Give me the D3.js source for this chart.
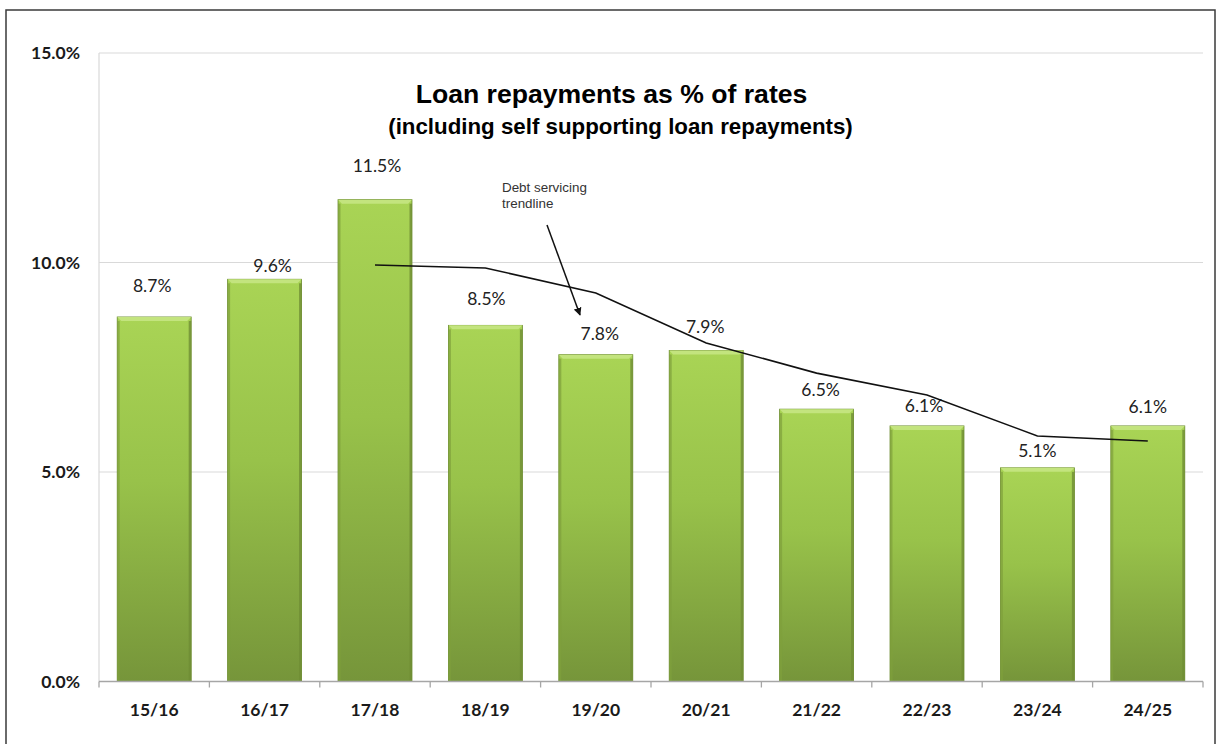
<!DOCTYPE html>
<html>
<head>
<meta charset="utf-8">
<script src="https://cdn.jsdelivr.net/npm/d3@7"></script>
<style>
  html, body { margin: 0; padding: 0; background: #fff; }
  svg { display: block; }
</style>
</head>
<body>
<svg id="chart" width="1224" height="744"></svg>
<script>
// Financial years and loan repayments as % of rates
const years = ["15/16", "16/17", "17/18", "18/19", "19/20", "20/21", "21/22", "22/23", "23/24", "24/25"];
const repayments = [8.7, 9.6, 11.5, 8.5, 7.8, 7.9, 6.5, 6.1, 5.1, 6.1];

// Debt servicing trendline (from 17/18 onwards)
const trendYears = ["17/18", "18/19", "19/20", "20/21", "21/22", "22/23", "23/24", "24/25"];
const trendValues = [9.94, 9.87, 9.27, 8.08, 7.36, 6.84, 5.86, 5.74];

const yTicks = [0, 5, 10, 15];

const svg = d3.select("#chart");
const plotLeft = 99, plotRight = 1203, plotTop = 53, plotBottom = 681.5;

// hand-placed value labels: gap above the bar top and sideways nudge (px)
const labelGap = [24.5, 7.5, 28, 20, 15, 17.5, 13, 14, 11, 13];
const labelNudge = [-2, 8, 2, 1, 4, -1, 4, -3, 0, 0];

const x = d3.scaleBand().domain(years).range([plotLeft, plotRight]).paddingInner(0.33).paddingOuter(0.165);
const xb = d3.scaleBand().domain(years).range([plotLeft, plotRight]);
const y = d3.scaleLinear().domain([0, 15]).range([plotBottom, plotTop]);

// outer frame
svg.append("rect").attr("x", 6).attr("y", 10).attr("width", 1209).attr("height", 740)
  .attr("fill", "none").attr("stroke", "#3a3a3a").attr("stroke-width", 1.5);

// gradients
const defs = svg.append("defs");
const g = defs.append("linearGradient").attr("id", "barFill").attr("x1", 0).attr("y1", 0).attr("x2", 0).attr("y2", 1);
g.append("stop").attr("offset", "0%").attr("stop-color", "#a9d455");
g.append("stop").attr("offset", "45%").attr("stop-color", "#98c24a");
g.append("stop").attr("offset", "100%").attr("stop-color", "#76953a");

// gridlines
svg.append("g").selectAll("line").data(yTicks.filter(d => d > 0)).join("line")
  .attr("x1", plotLeft).attr("x2", plotRight)
  .attr("y1", d => y(d)).attr("y2", d => y(d))
  .attr("stroke", "#d9d9d9").attr("stroke-width", 1.2);

// y axis line
svg.append("line").attr("x1", plotLeft).attr("x2", plotLeft).attr("y1", plotTop).attr("y2", plotBottom)
  .attr("stroke", "#d9d9d9").attr("stroke-width", 1.2);

// y tick labels
svg.append("g").selectAll("text").data(yTicks).join("text")
  .attr("x", 80).attr("y", d => y(d)).attr("dy", "0.36em")
  .attr("text-anchor", "end")
  .attr("font-family", "Lato, 'Open Sans', sans-serif").attr("font-weight", "bold")
  .attr("font-size", 17.5).attr("fill", "#1a1a1a")
  .text(d => d.toFixed(1) + "%");

// bars
const bars = svg.append("g").selectAll("g").data(repayments).join("g");
bars.append("rect")
  .attr("x", (d, i) => x(years[i])).attr("y", d => y(d))
  .attr("width", x.bandwidth()).attr("height", d => plotBottom - y(d))
  .attr("fill", "url(#barFill)").attr("stroke", "#6a8a2e").attr("stroke-width", 0.8);
// bevel highlight along the top edge
bars.append("path")
  .attr("d", (d, i) => {
    const x0 = x(years[i]), x1 = x0 + x.bandwidth(), y0 = y(d);
    return `M${x0},${y0}L${x1},${y0}L${x1 - 4},${y0 + 4}L${x0 + 4},${y0 + 4}Z`;
  })
  .attr("fill", "#c3e47e");
// darker side edges
bars.append("rect")
  .attr("x", (d, i) => x(years[i])).attr("y", d => y(d) + 4)
  .attr("width", 2.5).attr("height", d => plotBottom - y(d) - 4)
  .attr("fill", "#7f9f3c").attr("opacity", 0.7);
bars.append("rect")
  .attr("x", (d, i) => x(years[i]) + x.bandwidth() - 2.5).attr("y", d => y(d) + 4)
  .attr("width", 2.5).attr("height", d => plotBottom - y(d) - 4)
  .attr("fill", "#6f8d34").attr("opacity", 0.8);

// x axis
svg.append("line").attr("x1", plotLeft).attr("x2", plotRight).attr("y1", plotBottom).attr("y2", plotBottom)
  .attr("stroke", "#a6a6a6").attr("stroke-width", 1.3);
const boundaries = years.map(d => xb(d)).concat([plotRight]);
svg.append("g").selectAll("line").data(boundaries).join("line")
  .attr("x1", d => d).attr("x2", d => d).attr("y1", plotBottom).attr("y2", plotBottom + 6)
  .attr("stroke", "#a6a6a6").attr("stroke-width", 1.3);
svg.append("g").selectAll("text").data(years).join("text")
  .attr("x", d => xb(d) + xb.bandwidth() / 2).attr("y", 716)
  .attr("text-anchor", "middle")
  .attr("font-family", "Lato, 'Open Sans', sans-serif").attr("font-weight", "bold")
  .attr("font-size", 17.5).attr("fill", "#1a1a1a")
  .text(d => d);

// data labels
svg.append("g").selectAll("text").data(repayments).join("text")
  .attr("x", (d, i) => xb(years[i]) + xb.bandwidth() / 2 + labelNudge[i])
  .attr("y", (d, i) => y(d) - labelGap[i])
  .attr("text-anchor", "middle")
  .attr("font-family", "Lato, 'Open Sans', sans-serif")
  .attr("font-size", 17.5).attr("fill", "#222")
  .text(d => d.toFixed(1) + "%");

// trendline
const line = d3.line().x((d, i) => xb(trendYears[i]) + xb.bandwidth() / 2).y(d => y(d));
svg.append("path").datum(trendValues).attr("d", line)
  .attr("fill", "none").attr("stroke", "#111").attr("stroke-width", 1.6);

// annotation with arrow
defs.append("marker").attr("id", "arrowHead").attr("viewBox", "0 0 10 10")
  .attr("refX", 9).attr("refY", 5).attr("markerWidth", 8).attr("markerHeight", 8)
  .attr("markerUnits", "userSpaceOnUse").attr("orient", "auto")
  .append("path").attr("d", "M0,0L10,5L0,10Z").attr("fill", "#111");
svg.append("line").attr("x1", 547).attr("y1", 225).attr("x2", 580).attr("y2", 315)
  .attr("stroke", "#111").attr("stroke-width", 1.5).attr("marker-end", "url(#arrowHead)");
const note = svg.append("text").attr("x", 502).attr("font-family", "'Liberation Sans', Arial, sans-serif")
  .attr("font-size", 13.4).attr("fill", "#333");
note.append("tspan").attr("x", 502).attr("y", 192).text("Debt servicing");
note.append("tspan").attr("x", 502).attr("y", 208).text("trendline");

// title
svg.append("text").attr("x", 611.5).attr("y", 103).attr("text-anchor", "middle")
  .attr("font-family", "'Liberation Sans', Arial, sans-serif").attr("font-weight", "bold")
  .attr("font-size", 26.6).attr("fill", "#000")
  .text("Loan repayments as % of rates");
svg.append("text").attr("x", 620.5).attr("y", 134).attr("text-anchor", "middle")
  .attr("font-family", "'Liberation Sans', Arial, sans-serif").attr("font-weight", "bold")
  .attr("font-size", 22.3).attr("fill", "#000")
  .text("(including self supporting loan repayments)");
</script>
</body>
</html>
